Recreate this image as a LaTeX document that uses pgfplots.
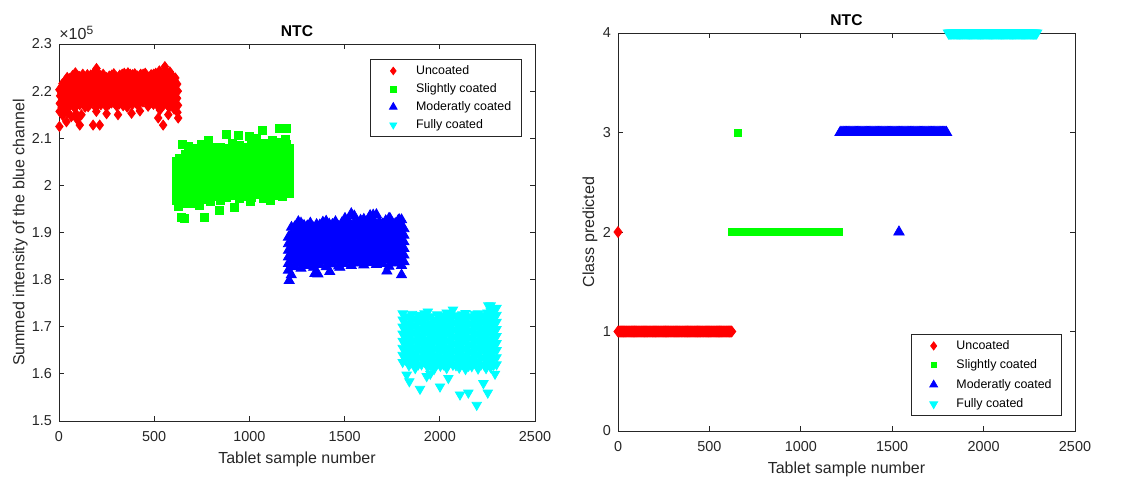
\documentclass[border=0pt]{standalone}
\usepackage{pgfplots}
\pgfplotsset{compat=1.18}
\usepackage{fontspec}
\setmainfont{Liberation Sans}

\definecolor{axgray}{rgb}{0.15,0.15,0.15}
\definecolor{mred}{rgb}{1,0,0}
\definecolor{mgreen}{rgb}{0,1,0}
\definecolor{mblue}{rgb}{0,0,1}
\definecolor{mcyan}{rgb}{0,1,1}

\pgfplotsset{
  ntc/.style={
    scale only axis,
    axis line style={axgray,line width=0.4pt},
    tick style={axgray,line width=0.4pt},
    major tick length=2.5pt,
    tick align=inside,
    xmin=0, xmax=2500, xtick={0,500,1000,1500,2000,2500},
    /pgf/number format/1000 sep={},
    /pgf/number format/assume math mode=true,
    ticklabel style={font=\fontsize{7.2}{8.5}\selectfont, text=axgray},
    xticklabel style={yshift=-1.5pt},
    label style={font=\fontsize{8}{9.5}\selectfont, text=axgray},
    xlabel={Tablet sample number},
    title={NTC},
    title style={font=\bfseries\fontsize{7.8}{9}\selectfont, at={(axis description cs:0.5,1)}, anchor=base, yshift=-2.2pt},
    legend cell align=left,
    legend style={draw=axgray, line width=0.4pt, fill=white,
      font=\fontsize{6.2}{7.5}\selectfont, inner xsep=3pt, inner ysep=1.5pt,
      nodes={text height=5pt, text depth=1.5pt, inner xsep=2pt, inner ysep=1pt},
      column sep=1.2pt, row sep=0.5pt},
  },
  lgimg/.style={legend image code/.code={\path (0pt,0pt) (16pt,0pt);
    \draw[mark repeat=2,mark phase=2,##1,every mark/.append style={scale=0.75}] plot coordinates {(0pt,0pt)(8pt,0pt)(16pt,0pt)};}},
}

\begin{document}
\begin{tikzpicture}
\useasboundingbox (0,0) rectangle (572.5pt,239.5pt);

% left: summed intensity of the blue channel
\begin{axis}[ntc, name=L,
  at={(29.5pt,29pt)}, anchor=south west, width=238pt, height=188.5pt,
  ymin=1.5, ymax=2.3, ytick={1.5,1.6,1.7,1.8,1.9,2,2.1,2.2,2.3},
  ylabel={Summed intensity of the blue channel},
  ylabel style={at={(axis description cs:-0.0725,0.5)}, anchor=base},
  xlabel style={at={(axis description cs:0.5,-0.1114)}, anchor=base},
  legend style={at={(axis description cs:1,1)}, anchor=north east, xshift=-6.7pt, yshift=-7.5pt},
]
\addplot[only marks, mark=diamond*, color=mred, mark size=2.5pt, lgimg] coordinates {
(3,2.157)(4,2.174)(6,2.19)(2,2.203)
(14,2.166)(16,2.181)(12,2.196)(15,2.21)
(32,2.161)(30,2.177)(34,2.192)(29,2.207)(33,2.222)
(56,2.168)(54,2.184)(58,2.199)(53,2.213)(57,2.227)
(82,2.164)(85,2.179)(80,2.195)(84,2.21)(81,2.224)(86,2.239)
(109,2.171)(112,2.186)(107,2.2)(111,2.215)(108,2.231)
(137,2.166)(134,2.182)(139,2.197)(136,2.212)(140,2.228)
(165,2.173)(162,2.188)(167,2.203)(163,2.218)(166,2.234)
(193,2.165)(190,2.18)(195,2.196)(191,2.211)(194,2.227)(197,2.248)
(220,2.171)(223,2.186)(218,2.201)(222,2.216)(219,2.233)
(248,2.167)(245,2.183)(250,2.198)(246,2.214)(249,2.229)
(276,2.175)(273,2.19)(278,2.205)(274,2.22)(277,2.234)
(303,2.168)(306,2.183)(301,2.197)(305,2.213)(302,2.23)
(331,2.176)(328,2.191)(333,2.206)(329,2.221)(332,2.236)
(358,2.166)(361,2.181)(356,2.197)(360,2.212)(357,2.228)(362,2.239)
(386,2.172)(383,2.188)(388,2.203)(384,2.219)(387,2.235)
(413,2.17)(416,2.185)(411,2.2)(415,2.216)(412,2.232)
(441,2.177)(438,2.192)(443,2.207)(439,2.222)(442,2.236)
(468,2.168)(471,2.184)(466,2.199)(470,2.214)(467,2.23)
(496,2.172)(493,2.188)(498,2.203)(494,2.219)(497,2.236)
(523,2.166)(526,2.181)(521,2.197)(525,2.212)(522,2.228)(527,2.243)
(551,2.171)(548,2.186)(553,2.202)(549,2.218)(552,2.234)(556,2.252)
(578,2.165)(581,2.18)(576,2.196)(580,2.212)(577,2.228)(582,2.241)
(604,2.162)(601,2.177)(606,2.193)(602,2.208)(605,2.224)
(622,2.155)(625,2.17)(620,2.185)(624,2.2)(621,2.215)
(17,2.173)(19,2.188)(16,2.203)(18,2.216)
(43,2.169)(44,2.184)(42,2.2)(45,2.214)(43,2.229)
(69,2.175)(67,2.19)(70,2.205)(68,2.219)(71,2.233)
(96,2.172)(98,2.187)(95,2.203)(97,2.218)(99,2.232)
(123,2.178)(121,2.193)(124,2.208)(122,2.222)(125,2.236)
(151,2.173)(153,2.189)(150,2.204)(152,2.22)(149,2.235)
(179,2.18)(177,2.195)(180,2.21)(178,2.225)(181,2.238)
(207,2.174)(205,2.19)(208,2.205)(206,2.22)(209,2.236)
(234,2.177)(236,2.193)(233,2.208)(235,2.223)(232,2.236)
(262,2.172)(260,2.188)(263,2.203)(261,2.219)(264,2.232)
(290,2.179)(292,2.194)(289,2.21)(291,2.224)(288,2.237)
(317,2.173)(315,2.189)(318,2.204)(316,2.22)(319,2.234)
(345,2.18)(347,2.195)(344,2.21)(346,2.225)(343,2.238)
(372,2.174)(370,2.19)(373,2.205)(371,2.221)(374,2.236)
(400,2.179)(402,2.194)(399,2.21)(401,2.225)(398,2.237)
(427,2.176)(425,2.191)(428,2.207)(426,2.222)(429,2.236)
(455,2.182)(457,2.197)(454,2.212)(456,2.227)(453,2.238)
(482,2.175)(480,2.19)(483,2.206)(481,2.221)(484,2.235)
(510,2.178)(512,2.194)(509,2.209)(511,2.224)(508,2.238)
(537,2.173)(535,2.189)(538,2.205)(536,2.22)(539,2.237)
(565,2.176)(567,2.192)(564,2.208)(566,2.224)(563,2.242)
(591,2.172)(589,2.188)(592,2.204)(590,2.22)(593,2.234)
(613,2.168)(615,2.183)(612,2.198)(614,2.213)(611,2.228)
(2,2.125)(39,2.135)(65,2.146)(109,2.128)(118,2.15)(153,2.167)(179,2.128)
(196,2.157)(214,2.128)(293,2.174)(310,2.15)(337,2.169)(381,2.153)(425,2.158)
(460,2.178)(521,2.143)(530,2.16)(547,2.128)(574,2.15)(626,2.143)
(20,2.148)(45,2.155)(90,2.152)(250,2.152)(95,2.14)
};
\addplot[only marks, mark=square*, color=mgreen, mark size=2pt, lgimg] coordinates {
(615,1.968)(615,1.985)(615,2.001)(615,2.018)(615,2.034)(615,2.05)
(648,1.962)(648,1.979)(648,1.995)(648,2.011)(648,2.027)(648,2.043)(648,2.058)
(681,1.972)(681,1.988)(681,2.004)(681,2.02)(681,2.036)(681,2.052)(681,2.068)(681,2.082)
(714,1.967)(714,1.983)(714,1.999)(714,2.015)(714,2.031)(714,2.047)(714,2.063)(714,2.079)
(747,1.975)(747,1.991)(747,2.007)(747,2.023)(747,2.039)(747,2.055)(747,2.071)(747,2.088)
(780,1.97)(780,1.986)(780,2.002)(780,2.018)(780,2.034)(780,2.05)(780,2.066)(780,2.084)
(813,1.976)(813,1.992)(813,2.008)(813,2.024)(813,2.04)(813,2.056)(813,2.072)
(846,1.969)(846,1.985)(846,2.001)(846,2.017)(846,2.033)(846,2.049)(846,2.065)(846,2.081)
(879,1.974)(879,1.99)(879,2.006)(879,2.022)(879,2.038)(879,2.054)(879,2.07)
(912,1.978)(912,1.994)(912,2.01)(912,2.026)(912,2.042)(912,2.058)(912,2.074)(912,2.09)
(945,1.972)(945,1.988)(945,2.004)(945,2.02)(945,2.036)(945,2.052)(945,2.068)(945,2.085)
(978,1.977)(978,1.993)(978,2.009)(978,2.025)(978,2.041)(978,2.057)(978,2.073)
(1011,1.975)(1011,1.991)(1011,2.007)(1011,2.023)(1011,2.039)(1011,2.055)(1011,2.071)(1011,2.087)
(1044,1.98)(1044,1.996)(1044,2.012)(1044,2.028)(1044,2.044)(1044,2.06)(1044,2.076)
(1077,1.976)(1077,1.992)(1077,2.008)(1077,2.024)(1077,2.04)(1077,2.056)(1077,2.072)(1077,2.09)
(1110,1.981)(1110,1.997)(1110,2.013)(1110,2.029)(1110,2.045)(1110,2.061)(1110,2.077)
(1143,1.979)(1143,1.995)(1143,2.011)(1143,2.027)(1143,2.043)(1143,2.059)(1143,2.075)(1143,2.092)
(1176,1.983)(1176,1.999)(1176,2.015)(1176,2.031)(1176,2.047)(1176,2.063)(1176,2.079)
(1208,1.984)(1208,2.0)(1208,2.016)(1208,2.032)(1208,2.048)(1208,2.064)(1208,2.078)
(631,1.976)(631,1.993)(631,2.009)(631,2.026)(631,2.042)(631,2.058)
(664,1.97)(664,1.987)(664,2.003)(664,2.019)(664,2.035)(664,2.051)(664,2.066)
(697,1.98)(697,1.996)(697,2.012)(697,2.028)(697,2.044)(697,2.06)(697,2.075)
(730,1.975)(730,1.991)(730,2.007)(730,2.023)(730,2.039)(730,2.055)(730,2.071)
(763,1.983)(763,1.999)(763,2.015)(763,2.031)(763,2.047)(763,2.063)(763,2.079)
(796,1.978)(796,1.994)(796,2.01)(796,2.026)(796,2.042)(796,2.058)(796,2.074)
(829,1.984)(829,2.0)(829,2.016)(829,2.032)(829,2.048)(829,2.064)(829,2.08)
(862,1.977)(862,1.993)(862,2.009)(862,2.025)(862,2.041)(862,2.057)(862,2.073)
(895,1.982)(895,1.998)(895,2.014)(895,2.03)(895,2.046)(895,2.062)(895,2.078)
(928,1.986)(928,2.002)(928,2.018)(928,2.034)(928,2.05)(928,2.066)(928,2.081)
(961,1.98)(961,1.996)(961,2.012)(961,2.028)(961,2.044)(961,2.06)(961,2.076)
(994,1.985)(994,2.001)(994,2.017)(994,2.033)(994,2.049)(994,2.065)(994,2.08)
(1027,1.983)(1027,1.999)(1027,2.015)(1027,2.031)(1027,2.047)(1027,2.063)(1027,2.079)
(1060,1.988)(1060,2.004)(1060,2.02)(1060,2.036)(1060,2.052)(1060,2.068)(1060,2.083)
(1093,1.984)(1093,2.0)(1093,2.016)(1093,2.032)(1093,2.048)(1093,2.064)(1093,2.08)
(1126,1.989)(1126,2.005)(1126,2.021)(1126,2.037)(1126,2.053)(1126,2.069)(1126,2.084)
(1159,1.987)(1159,2.003)(1159,2.019)(1159,2.035)(1159,2.051)(1159,2.067)(1159,2.082)
(1192,1.991)(1192,2.007)(1192,2.023)(1192,2.039)(1192,2.055)(1192,2.071)(1192,2.086)
(649,2.088)(644,1.933)(658,1.930)(763,1.932)(842,1.948)(921,1.953)(877,2.109)
(944,2.106)(1068,2.116)(1158,2.121)(1196,2.121)(1039,2.1)(784,2.096)(1004,1.965)
(1074,1.972)(1175,1.976)(1109,1.969)(688,1.962)(740,1.958)(793,1.965)(625,1.955)
(1000,2.103)(1120,2.095)(1190,2.098)
};
\addplot[only marks, mark=triangle*, color=mblue, mark size=2.9pt, lgimg] coordinates {
(1205,1.82)(1205,1.834)(1205,1.848)(1205,1.862)(1205,1.876)(1205,1.89)
(1238,1.828)(1238,1.842)(1238,1.856)(1238,1.87)(1238,1.884)(1238,1.898)(1238,1.912)
(1271,1.824)(1271,1.838)(1271,1.852)(1271,1.866)(1271,1.88)(1271,1.894)(1271,1.908)(1271,1.92)
(1304,1.83)(1304,1.844)(1304,1.858)(1304,1.872)(1304,1.886)(1304,1.9)(1304,1.914)
(1337,1.826)(1337,1.84)(1337,1.854)(1337,1.868)(1337,1.882)(1337,1.896)(1337,1.91)
(1370,1.832)(1370,1.846)(1370,1.86)(1370,1.874)(1370,1.888)(1370,1.902)(1370,1.916)
(1403,1.827)(1403,1.841)(1403,1.855)(1403,1.869)(1403,1.883)(1403,1.897)(1403,1.911)(1403,1.924)
(1436,1.833)(1436,1.847)(1436,1.861)(1436,1.875)(1436,1.889)(1436,1.903)(1436,1.917)
(1469,1.829)(1469,1.843)(1469,1.857)(1469,1.871)(1469,1.885)(1469,1.899)(1469,1.913)
(1502,1.834)(1502,1.848)(1502,1.862)(1502,1.876)(1502,1.89)(1502,1.904)(1502,1.918)(1502,1.93)
(1535,1.83)(1535,1.844)(1535,1.858)(1535,1.872)(1535,1.886)(1535,1.9)(1535,1.914)(1535,1.94)
(1568,1.835)(1568,1.849)(1568,1.863)(1568,1.877)(1568,1.891)(1568,1.905)(1568,1.919)
(1601,1.831)(1601,1.845)(1601,1.859)(1601,1.873)(1601,1.887)(1601,1.901)(1601,1.915)(1601,1.928)
(1634,1.836)(1634,1.85)(1634,1.864)(1634,1.878)(1634,1.892)(1634,1.906)(1634,1.92)(1634,1.936)
(1667,1.832)(1667,1.846)(1667,1.86)(1667,1.874)(1667,1.888)(1667,1.902)(1667,1.916)(1667,1.938)
(1700,1.834)(1700,1.848)(1700,1.862)(1700,1.876)(1700,1.89)(1700,1.904)(1700,1.918)
(1733,1.828)(1733,1.842)(1733,1.856)(1733,1.87)(1733,1.884)(1733,1.898)(1733,1.912)(1733,1.93)
(1766,1.835)(1766,1.849)(1766,1.863)(1766,1.877)(1766,1.891)(1766,1.905)(1766,1.919)
(1799,1.83)(1799,1.844)(1799,1.858)(1799,1.872)(1799,1.886)(1799,1.9)(1799,1.914)(1799,1.927)
(1812,1.838)(1812,1.852)(1812,1.866)(1812,1.88)(1812,1.894)(1812,1.908)
(1221,1.827)(1221,1.841)(1221,1.855)(1221,1.869)(1221,1.883)(1221,1.897)(1221,1.911)
(1254,1.835)(1254,1.849)(1254,1.863)(1254,1.877)(1254,1.891)(1254,1.905)(1254,1.918)
(1287,1.831)(1287,1.845)(1287,1.859)(1287,1.873)(1287,1.887)(1287,1.901)(1287,1.915)
(1320,1.837)(1320,1.851)(1320,1.865)(1320,1.879)(1320,1.893)(1320,1.907)(1320,1.92)
(1353,1.833)(1353,1.847)(1353,1.861)(1353,1.875)(1353,1.889)(1353,1.903)(1353,1.917)
(1386,1.839)(1386,1.853)(1386,1.867)(1386,1.881)(1386,1.895)(1386,1.909)(1386,1.922)
(1419,1.834)(1419,1.848)(1419,1.862)(1419,1.876)(1419,1.89)(1419,1.904)(1419,1.918)
(1452,1.84)(1452,1.854)(1452,1.868)(1452,1.882)(1452,1.896)(1452,1.91)(1452,1.923)
(1485,1.836)(1485,1.85)(1485,1.864)(1485,1.878)(1485,1.892)(1485,1.906)(1485,1.92)
(1518,1.841)(1518,1.855)(1518,1.869)(1518,1.883)(1518,1.897)(1518,1.911)(1518,1.925)
(1551,1.837)(1551,1.851)(1551,1.865)(1551,1.879)(1551,1.893)(1551,1.907)(1551,1.921)(1551,1.935)
(1584,1.842)(1584,1.856)(1584,1.87)(1584,1.884)(1584,1.898)(1584,1.912)(1584,1.926)
(1617,1.838)(1617,1.852)(1617,1.866)(1617,1.88)(1617,1.894)(1617,1.908)(1617,1.922)
(1650,1.843)(1650,1.857)(1650,1.871)(1650,1.885)(1650,1.899)(1650,1.913)(1650,1.927)
(1683,1.839)(1683,1.853)(1683,1.867)(1683,1.881)(1683,1.895)(1683,1.909)(1683,1.923)
(1716,1.841)(1716,1.855)(1716,1.869)(1716,1.883)(1716,1.897)(1716,1.911)(1716,1.925)
(1749,1.836)(1749,1.85)(1749,1.864)(1749,1.878)(1749,1.892)(1749,1.906)(1749,1.92)
(1782,1.842)(1782,1.856)(1782,1.87)(1782,1.884)(1782,1.898)(1782,1.912)(1782,1.926)
(1209,1.798)(1344,1.813)(1360,1.812)(1422,1.817)(1475,1.826)(1799,1.81)(1722,1.818)
(1257,1.923)(1650,1.937)(1738,1.93)(1787,1.927)(1220,1.81)
};
\addplot[only marks, mark=triangle*, mark options={rotate=180}, color=mcyan, mark size=2.7pt, lgimg] coordinates {
(1805,1.625)(1805,1.64)(1805,1.655)(1805,1.67)(1805,1.685)(1805,1.7)(1805,1.715)(1805,1.728)
(1838,1.618)(1838,1.633)(1838,1.648)(1838,1.663)(1838,1.678)(1838,1.693)(1838,1.708)(1838,1.722)
(1871,1.612)(1871,1.627)(1871,1.642)(1871,1.657)(1871,1.672)(1871,1.687)(1871,1.702)(1871,1.717)
(1904,1.62)(1904,1.635)(1904,1.65)(1904,1.665)(1904,1.68)(1904,1.695)(1904,1.71)(1904,1.725)
(1937,1.614)(1937,1.629)(1937,1.644)(1937,1.659)(1937,1.674)(1937,1.689)(1937,1.704)(1937,1.72)(1937,1.732)
(1970,1.61)(1970,1.625)(1970,1.64)(1970,1.655)(1970,1.67)(1970,1.685)(1970,1.7)(1970,1.715)
(2003,1.617)(2003,1.632)(2003,1.647)(2003,1.662)(2003,1.677)(2003,1.692)(2003,1.707)(2003,1.722)
(2036,1.612)(2036,1.627)(2036,1.642)(2036,1.657)(2036,1.672)(2036,1.687)(2036,1.702)(2036,1.717)(2036,1.73)
(2069,1.619)(2069,1.634)(2069,1.649)(2069,1.664)(2069,1.679)(2069,1.694)(2069,1.709)(2069,1.724)(2069,1.736)
(2102,1.613)(2102,1.628)(2102,1.643)(2102,1.658)(2102,1.673)(2102,1.688)(2102,1.703)(2102,1.718)
(2135,1.61)(2135,1.625)(2135,1.64)(2135,1.655)(2135,1.67)(2135,1.685)(2135,1.7)(2135,1.715)(2135,1.729)
(2168,1.616)(2168,1.631)(2168,1.646)(2168,1.661)(2168,1.676)(2168,1.691)(2168,1.706)(2168,1.721)
(2201,1.611)(2201,1.626)(2201,1.641)(2201,1.656)(2201,1.671)(2201,1.686)(2201,1.701)(2201,1.716)(2201,1.728)
(2234,1.618)(2234,1.633)(2234,1.648)(2234,1.663)(2234,1.678)(2234,1.693)(2234,1.708)(2234,1.723)
(2267,1.614)(2267,1.629)(2267,1.644)(2267,1.659)(2267,1.674)(2267,1.689)(2267,1.704)(2267,1.719)(2267,1.734)(2267,1.745)
(2298,1.62)(2298,1.635)(2298,1.65)(2298,1.665)(2298,1.68)(2298,1.695)(2298,1.71)(2298,1.725)(2298,1.74)
(1821,1.63)(1821,1.645)(1821,1.66)(1821,1.675)(1821,1.69)(1821,1.705)(1821,1.72)
(1854,1.624)(1854,1.639)(1854,1.654)(1854,1.669)(1854,1.684)(1854,1.699)(1854,1.714)(1854,1.727)
(1887,1.62)(1887,1.635)(1887,1.65)(1887,1.665)(1887,1.68)(1887,1.695)(1887,1.71)(1887,1.724)
(1920,1.626)(1920,1.641)(1920,1.656)(1920,1.671)(1920,1.686)(1920,1.701)(1920,1.716)(1920,1.728)
(1953,1.618)(1953,1.633)(1953,1.648)(1953,1.663)(1953,1.678)(1953,1.693)(1953,1.708)(1953,1.722)
(1986,1.622)(1986,1.637)(1986,1.652)(1986,1.667)(1986,1.682)(1986,1.697)(1986,1.712)(1986,1.726)
(2019,1.62)(2019,1.635)(2019,1.65)(2019,1.665)(2019,1.68)(2019,1.695)(2019,1.71)(2019,1.724)
(2052,1.624)(2052,1.639)(2052,1.654)(2052,1.669)(2052,1.684)(2052,1.699)(2052,1.714)(2052,1.728)
(2085,1.618)(2085,1.633)(2085,1.648)(2085,1.663)(2085,1.678)(2085,1.693)(2085,1.708)(2085,1.723)
(2118,1.621)(2118,1.636)(2118,1.651)(2118,1.666)(2118,1.681)(2118,1.696)(2118,1.711)(2118,1.726)
(2151,1.617)(2151,1.632)(2151,1.647)(2151,1.662)(2151,1.677)(2151,1.692)(2151,1.707)(2151,1.722)
(2184,1.623)(2184,1.638)(2184,1.653)(2184,1.668)(2184,1.683)(2184,1.698)(2184,1.713)(2184,1.727)
(2217,1.62)(2217,1.635)(2217,1.65)(2217,1.665)(2217,1.68)(2217,1.695)(2217,1.71)(2217,1.725)
(2250,1.624)(2250,1.639)(2250,1.654)(2250,1.669)(2250,1.684)(2250,1.699)(2250,1.714)(2250,1.73)
(2283,1.619)(2283,1.634)(2283,1.649)(2283,1.664)(2283,1.679)(2283,1.694)(2283,1.709)(2283,1.724)(2283,1.738)
(1826,1.598)(1840,1.584)(1896,1.568)(1931,1.595)(2001,1.573)(2045,1.591)(2106,1.556)
(2150,1.56)(2194,1.534)(2229,1.58)(2252,1.56)(2243,1.612)(2255,1.745)(2290,1.6)(1950,1.6)
};
\legend{Uncoated,Slightly coated,Moderatly coated,Fully coated}
\end{axis}
\node[anchor=base west, font=\fontsize{8}{9.5}\selectfont, text=axgray, inner sep=0pt]
  at ([yshift=2.1pt]L.north west) {×10\textsuperscript{5}};

% right: predicted class
\begin{axis}[ntc,
  at={(309pt,24pt)}, anchor=south west, width=228.5pt, height=199pt,
  ymin=0, ymax=4, ytick={0,1,2,3,4},
  ylabel={Class predicted},
  ylabel style={at={(axis description cs:-0.0525,0.5)}, anchor=base},
  xlabel style={at={(axis description cs:0.5,-0.108)}, anchor=base},
  legend style={at={(axis description cs:1,0)}, anchor=south east, xshift=-6.5pt, yshift=7.5pt, row sep=1.2pt},
]
\addplot[only marks, mark=diamond*, color=mred, mark size=2.7pt, lgimg] coordinates {
(0,2)
(0,1)(5,1)(10,1)(15,1)(20,1)(25,1)(30,1)(35,1)(40,1)(45,1)(50,1)(55,1)(60,1)(65,1)
(70,1)(75,1)(80,1)(85,1)(90,1)(95,1)(100,1)(105,1)(110,1)(115,1)(120,1)(125,1)
(130,1)(135,1)(140,1)(145,1)(150,1)(155,1)(160,1)(165,1)(170,1)(175,1)(180,1)
(185,1)(190,1)(195,1)(200,1)(205,1)(210,1)(215,1)(220,1)(225,1)(230,1)(235,1)
(240,1)(245,1)(250,1)(255,1)(260,1)(265,1)(270,1)(275,1)(280,1)(285,1)(290,1)
(295,1)(300,1)(305,1)(310,1)(315,1)(320,1)(325,1)(330,1)(335,1)(340,1)(345,1)
(350,1)(355,1)(360,1)(365,1)(370,1)(375,1)(380,1)(385,1)(390,1)(395,1)(400,1)
(405,1)(410,1)(415,1)(420,1)(425,1)(430,1)(435,1)(440,1)(445,1)(450,1)(455,1)
(460,1)(465,1)(470,1)(475,1)(480,1)(485,1)(490,1)(495,1)(500,1)(505,1)(510,1)
(515,1)(520,1)(525,1)(530,1)(535,1)(540,1)(545,1)(550,1)(555,1)(560,1)(565,1)
(570,1)(575,1)(580,1)(585,1)(590,1)(595,1)(600,1)(605,1)(610,1)(615,1)(622,1)
};
\addplot[only marks, mark=square*, color=mgreen, mark size=1.7pt, lgimg] coordinates {
(655,3)
(620,2)(630,2)(640,2)(650,2)(660,2)(670,2)(680,2)(690,2)(700,2)(710,2)(720,2)
(730,2)(740,2)(750,2)(760,2)(770,2)(780,2)(790,2)(800,2)(810,2)(820,2)(830,2)
(840,2)(850,2)(860,2)(870,2)(880,2)(890,2)(900,2)(910,2)(920,2)(930,2)(940,2)
(950,2)(960,2)(970,2)(980,2)(990,2)(1000,2)(1010,2)(1020,2)(1030,2)(1040,2)
(1050,2)(1060,2)(1070,2)(1080,2)(1090,2)(1100,2)(1110,2)(1120,2)(1130,2)
(1140,2)(1150,2)(1160,2)(1170,2)(1180,2)(1190,2)(1200,2)(1210,2)
};
\addplot[only marks, mark=triangle*, color=mblue, mark size=3pt, lgimg] coordinates {
(1537,2)
(1215,3)(1220,3)(1225,3)(1230,3)(1235,3)(1240,3)(1245,3)(1250,3)(1255,3)(1260,3)
(1265,3)(1270,3)(1275,3)(1280,3)(1285,3)(1290,3)(1295,3)(1300,3)(1305,3)(1310,3)
(1315,3)(1320,3)(1325,3)(1330,3)(1335,3)(1340,3)(1345,3)(1350,3)(1355,3)(1360,3)
(1365,3)(1370,3)(1375,3)(1380,3)(1385,3)(1390,3)(1395,3)(1400,3)(1405,3)(1410,3)
(1415,3)(1420,3)(1425,3)(1430,3)(1435,3)(1440,3)(1445,3)(1450,3)(1455,3)(1460,3)
(1465,3)(1470,3)(1475,3)(1480,3)(1485,3)(1490,3)(1495,3)(1500,3)(1505,3)(1510,3)
(1515,3)(1520,3)(1525,3)(1530,3)(1535,3)(1540,3)(1545,3)(1550,3)(1555,3)(1560,3)
(1565,3)(1570,3)(1575,3)(1580,3)(1585,3)(1590,3)(1595,3)(1600,3)(1605,3)(1610,3)
(1615,3)(1620,3)(1625,3)(1630,3)(1635,3)(1640,3)(1645,3)(1650,3)(1655,3)(1660,3)
(1665,3)(1670,3)(1675,3)(1680,3)(1685,3)(1690,3)(1695,3)(1700,3)(1705,3)(1710,3)
(1715,3)(1720,3)(1725,3)(1730,3)(1735,3)(1740,3)(1745,3)(1750,3)(1755,3)(1760,3)
(1765,3)(1770,3)(1775,3)(1780,3)(1785,3)(1790,3)(1797,3)
};
\addplot[only marks, mark=triangle*, mark options={rotate=180}, color=mcyan, mark size=3pt, lgimg] coordinates {
(1808,4)(1813,4)(1818,4)(1823,4)(1828,4)(1833,4)(1838,4)(1843,4)(1848,4)(1853,4)
(1858,4)(1863,4)(1868,4)(1873,4)(1878,4)(1883,4)(1888,4)(1893,4)(1898,4)(1903,4)
(1908,4)(1913,4)(1918,4)(1923,4)(1928,4)(1933,4)(1938,4)(1943,4)(1948,4)(1953,4)
(1958,4)(1963,4)(1968,4)(1973,4)(1978,4)(1983,4)(1988,4)(1993,4)(1998,4)(2003,4)
(2008,4)(2013,4)(2018,4)(2023,4)(2028,4)(2033,4)(2038,4)(2043,4)(2048,4)(2053,4)
(2058,4)(2063,4)(2068,4)(2073,4)(2078,4)(2083,4)(2088,4)(2093,4)(2098,4)(2103,4)
(2108,4)(2113,4)(2118,4)(2123,4)(2128,4)(2133,4)(2138,4)(2143,4)(2148,4)(2153,4)
(2158,4)(2163,4)(2168,4)(2173,4)(2178,4)(2183,4)(2188,4)(2193,4)(2198,4)(2203,4)
(2208,4)(2213,4)(2218,4)(2223,4)(2228,4)(2233,4)(2238,4)(2243,4)(2248,4)(2253,4)
(2258,4)(2263,4)(2268,4)(2273,4)(2278,4)(2283,4)(2290,4)
};
\legend{Uncoated,Slightly coated,Moderatly coated,Fully coated}
\end{axis}
\end{tikzpicture}
\end{document}
